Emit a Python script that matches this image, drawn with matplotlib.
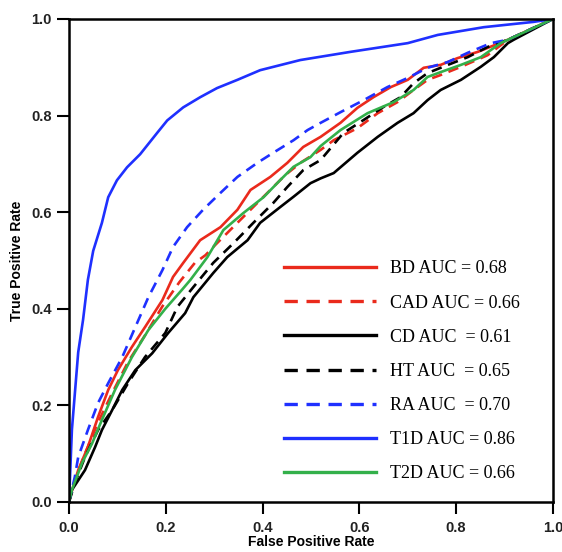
import matplotlib
matplotlib.use("Agg")
import matplotlib.pyplot as plt

# ---- data ----
t1d_fpr = [0.0, 0.006, 0.019, 0.029, 0.039, 0.050, 0.068, 0.081, 0.099, 0.120, 0.147, 0.182, 0.203, 0.236, 0.271, 0.306, 0.348, 0.395, 0.478, 0.582, 0.700, 0.762, 0.857, 0.960, 1.0]
t1d_tpr = [0.0, 0.150, 0.310, 0.377, 0.460, 0.520, 0.578, 0.631, 0.666, 0.693, 0.720, 0.764, 0.790, 0.817, 0.838, 0.857, 0.874, 0.894, 0.915, 0.932, 0.950, 0.967, 0.983, 0.994, 1.0]

ra_fpr = [0.0, 0.012, 0.019, 0.039, 0.060, 0.081, 0.110, 0.137, 0.164, 0.193, 0.215, 0.244, 0.277, 0.313, 0.348, 0.389, 0.422, 0.464, 0.493, 0.520, 0.561, 0.609, 0.658, 0.700, 0.741, 0.783, 0.824, 0.872, 0.907, 1.0]
ra_tpr = [0.0, 0.052, 0.093, 0.149, 0.205, 0.246, 0.300, 0.362, 0.424, 0.480, 0.528, 0.569, 0.605, 0.640, 0.673, 0.702, 0.723, 0.749, 0.770, 0.785, 0.807, 0.832, 0.859, 0.878, 0.899, 0.911, 0.930, 0.950, 0.957, 1.0]

bd_fpr = [0.0, 0.002, 0.019, 0.039, 0.060, 0.081, 0.101, 0.130, 0.157, 0.193, 0.215, 0.236, 0.271, 0.313, 0.348, 0.375, 0.416, 0.451, 0.484, 0.520, 0.561, 0.596, 0.629, 0.665, 0.700, 0.733, 0.768, 0.803, 0.845, 0.907, 1.0]
bd_tpr = [0.0, 0.010, 0.066, 0.114, 0.176, 0.232, 0.273, 0.321, 0.362, 0.418, 0.466, 0.495, 0.542, 0.569, 0.605, 0.646, 0.673, 0.702, 0.735, 0.756, 0.785, 0.816, 0.838, 0.859, 0.874, 0.899, 0.905, 0.919, 0.932, 0.957, 1.0]

cad_fpr = [0.0, 0.012, 0.033, 0.060, 0.089, 0.122, 0.157, 0.193, 0.228, 0.260, 0.282, 0.302, 0.340, 0.390, 0.433, 0.447, 0.478, 0.520, 0.547, 0.596, 0.638, 0.679, 0.712, 0.741, 0.768, 0.810, 0.865, 0.907, 1.0]
cad_tpr = [0.0, 0.045, 0.100, 0.165, 0.225, 0.290, 0.345, 0.405, 0.455, 0.495, 0.511, 0.532, 0.570, 0.620, 0.663, 0.677, 0.702, 0.729, 0.749, 0.774, 0.805, 0.828, 0.853, 0.874, 0.884, 0.901, 0.925, 0.957, 1.0]

cd_fpr = [0.0, 0.006, 0.033, 0.054, 0.068, 0.089, 0.110, 0.137, 0.172, 0.205, 0.240, 0.257, 0.298, 0.327, 0.369, 0.395, 0.437, 0.464, 0.499, 0.520, 0.547, 0.596, 0.638, 0.679, 0.712, 0.741, 0.768, 0.810, 0.851, 0.878, 0.907, 0.919, 1.0]
cd_tpr = [0.0, 0.025, 0.066, 0.114, 0.149, 0.190, 0.232, 0.273, 0.308, 0.350, 0.391, 0.424, 0.474, 0.507, 0.542, 0.578, 0.611, 0.632, 0.660, 0.670, 0.681, 0.723, 0.756, 0.785, 0.805, 0.832, 0.853, 0.874, 0.901, 0.921, 0.950, 0.957, 1.0]

ht_fpr = [0.0, 0.012, 0.033, 0.060, 0.089, 0.122, 0.157, 0.199, 0.224, 0.257, 0.298, 0.340, 0.381, 0.422, 0.451, 0.484, 0.520, 0.567, 0.609, 0.650, 0.685, 0.712, 0.741, 0.783, 0.824, 0.865, 0.907, 1.0]
ht_tpr = [0.0, 0.039, 0.093, 0.149, 0.190, 0.246, 0.300, 0.350, 0.404, 0.445, 0.495, 0.536, 0.578, 0.619, 0.652, 0.687, 0.708, 0.764, 0.791, 0.818, 0.838, 0.867, 0.888, 0.905, 0.921, 0.942, 0.957, 1.0]

t2d_fpr = [0.0, 0.006, 0.027, 0.048, 0.068, 0.095, 0.130, 0.164, 0.199, 0.234, 0.251, 0.286, 0.319, 0.360, 0.402, 0.437, 0.464, 0.499, 0.520, 0.561, 0.617, 0.671, 0.712, 0.741, 0.768, 0.810, 0.851, 0.892, 0.907, 1.0]
t2d_tpr = [0.0, 0.025, 0.081, 0.122, 0.170, 0.232, 0.300, 0.356, 0.400, 0.440, 0.460, 0.507, 0.563, 0.598, 0.631, 0.667, 0.694, 0.714, 0.737, 0.770, 0.805, 0.828, 0.853, 0.880, 0.890, 0.905, 0.921, 0.950, 0.957, 1.0]

labels = ["BD AUC = 0.68", "CAD AUC = 0.66", "CD AUC  = 0.61", "HT AUC  = 0.65",
          "RA AUC  = 0.70", "T1D AUC = 0.86", "T2D AUC = 0.66"]
ticks = [0.0, 0.2, 0.4, 0.6, 0.8, 1.0]
tick_labels = ["0.0", "0.2", "0.4", "0.6", "0.8", "1.0"]

RED = "#ea2a1c"
BLUE = "#1f30ff"
GREEN = "#33b04a"
BLACK = "#000000"

fig = plt.figure(figsize=(5.62, 5.52), dpi=100)
ax = fig.add_axes([0.1228, 0.0906, 0.861, 0.875])

lw = 1.9
dash = (4.0, 2.6)
series = [
    (bd_fpr, bd_tpr, RED, "-"),
    (cad_fpr, cad_tpr, RED, "--"),
    (cd_fpr, cd_tpr, BLACK, "-"),
    (ht_fpr, ht_tpr, BLACK, "--"),
    (ra_fpr, ra_tpr, BLUE, "--"),
    (t1d_fpr, t1d_tpr, BLUE, "-"),
    (t2d_fpr, t2d_tpr, GREEN, "-"),
]
handles = []
for (x, y, c, ls), lab in zip(series, labels):
    if ls == "--":
        h, = ax.plot(x, y, color=c, lw=lw, dashes=dash, label=lab)
    else:
        h, = ax.plot(x, y, color=c, lw=lw, label=lab)
    handles.append(h)

ax.set_xlim(0, 1)
ax.set_ylim(0, 1)
ax.set_xticks(ticks)
ax.set_xticklabels(tick_labels)
ax.set_yticks(ticks)
ax.set_yticklabels(tick_labels)
for s in ax.spines.values():
    s.set_linewidth(1.8)
ax.tick_params(direction="out", length=8.5, width=1.5, pad=4)
ax.tick_params(axis="x", pad=5)
for lab in ax.get_xticklabels() + ax.get_yticklabels():
    lab.set_fontfamily("Liberation Sans")
    lab.set_fontweight("bold")
    lab.set_fontsize(10.5)
    lab.set_color("#222222")

ax.set_xlabel("False Positive Rate", fontfamily="Liberation Sans", fontweight="bold",
              fontsize=10, labelpad=0)
ax.set_ylabel("True Positive Rate", fontfamily="Liberation Sans", fontweight="bold",
              fontsize=10, labelpad=5)

leg = ax.legend(handles=handles, loc="upper left", bbox_to_anchor=(0.445, 0.50),
                frameon=False, handlelength=5.1, handletextpad=0.75,
                labelspacing=0.95, borderpad=0, borderaxespad=0,
                prop={"family": "Liberation Serif", "size": 13})
for l in leg.get_lines():
    l.set_linewidth(2.4)

fig.savefig("out.png", dpi=100)
